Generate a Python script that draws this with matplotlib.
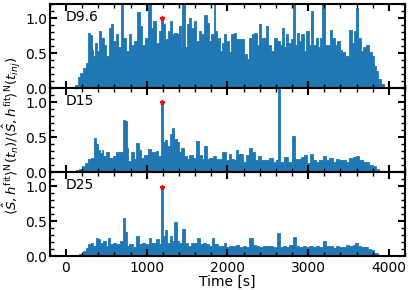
import numpy as np
import matplotlib
matplotlib.use("Agg")
import matplotlib.pyplot as plt
from matplotlib.ticker import MultipleLocator

# values (time [s], normalised overlap)
t_d96 = [100, 130, 165, 195, 227, 260, 289, 310, 330, 351, 372, 400, 425, 454, 483,
         517, 549, 578, 599, 632, 661, 702, 723, 764, 797, 826, 855, 897, 929, 962,
         991, 1033, 1062, 1094, 1136, 1169, 1190, 1218, 1240, 1276, 1301, 1322, 1355,
         1384, 1413, 1425, 1458, 1487, 1508, 1528, 1570, 1599, 1632, 1660, 1694, 1727,
         1756, 1784, 1818, 1838, 1859, 1888, 1921, 1949, 1974, 2003, 2032, 2065, 2094,
         2127, 2156, 2189, 2222, 2251, 2292, 2321, 2346, 2375, 2396, 2425, 2457, 2491,
         2519, 2561, 2602, 2631, 2664, 2684, 2713, 2738, 2767, 2796, 2829, 2850, 2871,
         2903, 2932, 2961, 2994, 3015, 3044, 3077, 3110, 3139, 3160, 3193, 3222, 3250,
         3284, 3312, 3346, 3374, 3408, 3441, 3470, 3498, 3523, 3552, 3573, 3606, 3635,
         3664, 3697, 3738, 3771, 3800, 3829, 3854, 3882, 3924, 3965, 3990]
y_d96 = [0.02, 0.05, 0.16, 0.22, 0.29, 0.36, 0.79, 0.76, 0.55, 0.46, 0.65, 0.53, 0.81,
         0.72, 0.62, 0.46, 0.86, 0.91, 0.67, 0.77, 0.58, 1.25, 0.72, 0.53, 0.77, 0.62,
         0.67, 1.08, 0.89, 0.62, 0.72, 1.25, 0.86, 0.96, 0.65, 0.81, 1.00, 0.91, 0.70,
         0.81, 0.96, 0.77, 0.79, 0.77, 0.88, 0.58, 1.25, 0.58, 0.91, 1.00, 0.86, 0.96,
         0.67, 0.81, 0.77, 1.05, 0.93, 0.67, 0.77, 1.20, 0.81, 0.72, 0.53, 0.65, 0.77,
         0.67, 0.51, 0.77, 0.79, 0.70, 0.70, 0.70, 0.48, 0.42, 0.72, 0.77, 0.79, 0.62,
         0.91, 0.72, 0.72, 0.88, 0.62, 0.53, 0.72, 0.67, 0.62, 0.86, 0.58, 0.77, 0.65,
         0.70, 1.25, 0.62, 0.79, 0.67, 0.77, 0.53, 0.81, 0.62, 1.10, 0.62, 0.72, 0.58,
         0.72, 1.25, 0.62, 0.62, 0.83, 0.72, 0.62, 0.67, 0.55, 0.51, 0.46, 0.46, 0.83,
         0.65, 0.81, 1.14, 0.72, 0.53, 0.58, 0.62, 0.51, 0.46, 0.32, 0.25, 0.13, 0.06,
         0.02, 0.00]

t_d15 = [100, 150, 185, 220, 248, 289, 330, 363, 384, 413, 440, 454, 475, 517, 558,
         599, 648, 682, 723, 744, 764, 785, 826, 855, 888, 917, 950, 991, 1033, 1062,
         1094, 1127, 1156, 1190, 1218, 1239, 1268, 1301, 1330, 1355, 1384, 1413, 1446,
         1479, 1508, 1549, 1590, 1632, 1664, 1694, 1727, 1756, 1797, 1838, 1880, 1912,
         1962, 1995, 2032, 2065, 2086, 2115, 2147, 2177, 2210, 2243, 2292, 2321, 2354,
         2396, 2437, 2478, 2540, 2581, 2615, 2640, 2672, 2726, 2767, 2821, 2850, 2891,
         2932, 2961, 3003, 3036, 3077, 3118, 3160, 3201, 3242, 3284, 3325, 3367, 3408,
         3449, 3490, 3532, 3573, 3614, 3655, 3697, 3738, 3779, 3820, 3862, 3903, 3944,
         3980]
y_d15 = [0.01, 0.03, 0.05, 0.09, 0.13, 0.18, 0.20, 0.48, 0.40, 0.32, 0.27, 0.32, 0.23,
         0.28, 0.20, 0.23, 0.29, 0.28, 0.75, 0.73, 0.35, 0.16, 0.28, 0.18, 0.42, 0.32,
         0.20, 0.25, 0.33, 0.28, 0.28, 0.30, 0.23, 1.00, 0.43, 0.46, 0.37, 0.54, 0.63,
         0.47, 0.43, 0.28, 0.35, 0.23, 0.18, 0.25, 0.20, 0.44, 0.25, 0.18, 0.37, 0.18,
         0.20, 0.23, 0.18, 0.18, 0.29, 0.17, 0.26, 0.19, 0.17, 0.32, 0.26, 0.26, 0.14,
         0.24, 0.34, 0.29, 0.17, 0.23, 0.17, 0.17, 0.20, 0.14, 0.17, 1.25, 0.15, 0.21,
         0.14, 0.52, 0.19, 0.19, 0.21, 0.24, 0.13, 0.26, 0.17, 0.15, 0.17, 0.23, 0.17,
         0.20, 0.14, 0.19, 0.17, 0.17, 0.14, 0.20, 0.21, 0.23, 0.17, 0.14, 0.14, 0.10,
         0.09, 0.05, 0.02, 0.005, 0.0]

t_d25 = [145, 190, 227, 260, 289, 322, 351, 384, 413, 442, 475, 508, 537, 566, 599,
         632, 661, 690, 723, 744, 764, 806, 846, 888, 921, 962, 1004, 1041, 1074, 1107,
         1136, 1165, 1190, 1218, 1239, 1268, 1301, 1330, 1355, 1384, 1425, 1458, 1487,
         1528, 1570, 1611, 1640, 1673, 1714, 1756, 1788, 1818, 1859, 1900, 1942, 1970,
         2003, 2045, 2086, 2127, 2168, 2210, 2251, 2292, 2333, 2375, 2416, 2457, 2499,
         2540, 2581, 2635, 2664, 2705, 2747, 2788, 2829, 2871, 2912, 2953, 2994, 3036,
         3077, 3118, 3160, 3201, 3242, 3284, 3325, 3367, 3408, 3449, 3490, 3532, 3573,
         3594, 3635, 3676, 3717, 3758, 3800, 3841, 3882, 3924, 3960]
y_d25 = [0.01, 0.03, 0.07, 0.11, 0.17, 0.19, 0.14, 0.26, 0.24, 0.19, 0.21, 0.14, 0.26,
         0.17, 0.19, 0.17, 0.17, 0.21, 0.55, 0.35, 0.14, 0.17, 0.13, 0.29, 0.17, 0.19,
         0.17, 0.26, 0.19, 0.19, 0.24, 0.17, 0.98, 0.29, 0.37, 0.19, 0.29, 0.21, 0.48,
         0.21, 0.19, 0.39, 0.19, 0.14, 0.19, 0.19, 0.26, 0.17, 0.19, 0.17, 0.14, 0.26,
         0.17, 0.14, 0.14, 0.19, 0.13, 0.15, 0.14, 0.16, 0.13, 0.14, 0.13, 0.26, 0.16,
         0.14, 0.13, 0.14, 0.14, 0.15, 0.13, 0.33, 0.13, 0.14, 0.13, 0.16, 0.27, 0.14,
         0.13, 0.14, 0.13, 0.14, 0.13, 0.14, 0.13, 0.21, 0.14, 0.14, 0.11, 0.14, 0.13,
         0.13, 0.16, 0.15, 0.16, 0.19, 0.15, 0.13, 0.13, 0.10, 0.08, 0.05, 0.02, 0.005,
         0.0]

labels = ["D9.6", "D15", "D25"]
t_inj = 1190
peak = [1.0, 1.0, 0.98]

plt.rcParams["axes.linewidth"] = 1.5
plt.rcParams["font.size"] = 10

f, axs = plt.subplots(3, 1, sharex=True, figsize=(4.15, 2.9), dpi=100)
for ax, t, y, lab, pk in zip(axs, [t_d96, t_d15, t_d25], [y_d96, y_d15, y_d25],
                             labels, peak):
    ax.fill_between(t, y, step="mid", color="#1f77b4", lw=0.6)
    ax.plot(t_inj, pk, "r*", ms=3.5)
    ax.text(0.045, 0.93, lab, transform=ax.transAxes, va="top", ha="left")
    ax.set_ylim(0, 1.2)
    ax.set_xlim(-200, 4200)
    ax.yaxis.set_major_locator(MultipleLocator(0.5))
    ax.yaxis.set_minor_locator(MultipleLocator(0.1))
    ax.xaxis.set_major_locator(MultipleLocator(1000))
    ax.xaxis.set_minor_locator(MultipleLocator(200))
    ax.tick_params(which="both", direction="in", top=True, right=True)
    ax.tick_params(which="major", length=5, width=1.5)
    ax.tick_params(which="minor", length=3, width=1)
    ax.tick_params(axis="y", pad=2)

axs[-1].set_xlabel("Time [s]", labelpad=0)
f.text(0.029, 0.53,
       r"$\langle\hat{S},h^{\rm fit}\rangle^{\rm N}(t_n)/"
       r"\langle\hat{S},h^{\rm fit}\rangle^{\rm N}(t_{inj})$",
       rotation=90, va="center", ha="center", fontsize=9.5)
f.subplots_adjust(left=0.12,
                  bottom=0.117,
                  top=0.986,
                  right=0.976,
                  hspace=0.0)
f.savefig("out.png")
